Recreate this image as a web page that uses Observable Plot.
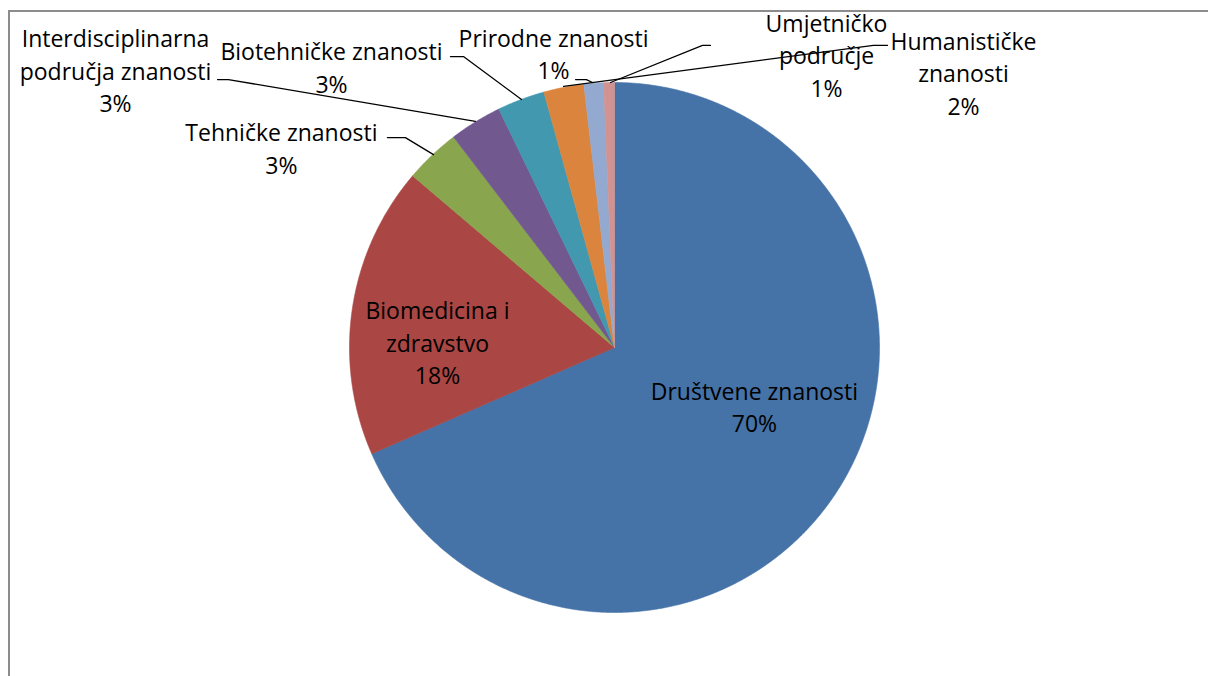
<!DOCTYPE html>
<html>
<head>
<meta charset="utf-8">
<script src="https://cdn.jsdelivr.net/npm/d3@7"></script>
<script src="https://cdn.jsdelivr.net/npm/@observablehq/plot@0.6"></script>
<style>
  html, body { margin: 0; padding: 0; background: #fff; }
  #wrap { position: relative; width: 1208px; height: 676px; overflow: hidden; }
  #frame { position: absolute; left: 8px; top: 10px; width: 1300px; height: 800px;
           border-top: 2px solid #8c8c8c; border-left: 2px solid #8c8c8c; box-sizing: border-box; }
  #chart { position: absolute; left: 0; top: 0; }
  svg text { font-variant-ligatures: none; font-feature-settings: "liga" 0; }
</style>
</head>
<body>
<div id="wrap"><div id="frame"></div><div id="chart"></div></div>
<script>
// ---- data ----
const categories = [
  "Društvene znanosti",
  "Biomedicina i zdravstvo",
  "Tehničke znanosti",
  "Interdisciplinarna područja znanosti",
  "Biotehničke znanosti",
  "Humanističke znanosti",
  "Prirodne znanosti",
  "Umjetničko područje"
];
const shares = [68.5, 17.8, 3.4, 3.2, 2.9, 2.45, 1.2, 0.65];
const percentLabels = ["70%", "18%", "3%", "3%", "3%", "2%", "1%", "1%"];
const labelLines = [
  "Društvene znanosti",
  "Biomedicina i\nzdravstvo",
  "Tehničke znanosti",
  "Interdisciplinarna\npodručja znanosti",
  "Biotehničke znanosti",
  "Humanističke\nznanosti",
  "Prirodne znanosti",
  "Umjetničko\npodručje"
];
const colors = ["#4572A7", "#AA4643", "#89A54E", "#71588F", "#4198AF", "#DB843D", "#93A9CF", "#D19392"];

// ---- layout (in pie-radius units, relative to pie centre) ----
const labelPos = [
  [0.528, -0.219], [-0.668, 0.023], [-1.257, 0.756], [-1.883, 1.050],
  [-1.068, 1.062], [1.317, 1.040], [-0.230, 1.112], [0.800, 1.108]
];
const leaderPts = [
  null, null,
  [[-0.857, 0.792], [-0.789, 0.792], [-0.683, 0.728]],
  [[-1.498, 1.011], [-1.457, 1.011], [-0.525, 0.853]],
  [[-0.619, 1.098], [-0.570, 1.098], [-0.351, 0.936]],
  [[1.030, 1.140], [0.977, 1.140], [-0.192, 0.985]],
  [[-0.147, 1.011], [-0.106, 1.011], [-0.083, 1.000]],
  [[0.362, 1.140], [0.332, 1.140], [-0.015, 1.000]]
];

const W = 1208, H = 676, CX = 614, CY = 347, R = 265;

// slice polygons
const total = d3.sum(shares);
const slicePts = [];
let acc = 0;
categories.forEach((c, i) => {
  const a0 = acc / total * 2 * Math.PI;
  acc += shares[i];
  const a1 = acc / total * 2 * Math.PI;
  const n = Math.max(2, Math.ceil((a1 - a0) / (Math.PI / 720)));
  slicePts.push({name: c, x: 0, y: 0});
  for (let k = 0; k <= n; k++) {
    const a = a0 + (a1 - a0) * k / n;
    slicePts.push({name: c, x: Math.sin(a), y: Math.cos(a)});
  }
  slicePts.push({name: c, x: 0, y: 0});
});

const labels = categories.map((c, i) => ({
  name: c,
  text: labelLines[i] + "\n" + percentLabels[i],
  x: labelPos[i][0], y: labelPos[i][1]
}));

const leaders = [];
categories.forEach((c, i) => {
  if (leaderPts[i]) leaderPts[i].forEach(p => leaders.push({name: c, x: p[0], y: p[1]}));
});

const FONT = "'Open Sans', Lato, sans-serif";

const chart = Plot.plot({
  width: W, height: H, margin: 0,
  style: {background: "transparent", fontFamily: FONT},
  x: {domain: [-CX / R, (W - CX) / R], axis: null},
  y: {domain: [-(H - CY) / R, CY / R], axis: null},
  color: {type: "ordinal", domain: categories, range: colors},
  marks: [
    Plot.line(slicePts, {x: "x", y: "y", z: "name", fill: "name", stroke: "name", strokeWidth: 0.6, curve: "linear"}),
    Plot.line(leaders, {x: "x", y: "y", z: "name", stroke: "#000", strokeWidth: 1.3}),
    Plot.text(labels, {x: "x", y: "y", text: "text", fill: "#000", fontSize: 23, lineHeight: 1.41, fontFamily: FONT, lineAnchor: "middle"})
  ]
});
document.getElementById("chart").appendChild(chart);
</script>
</body>
</html>
